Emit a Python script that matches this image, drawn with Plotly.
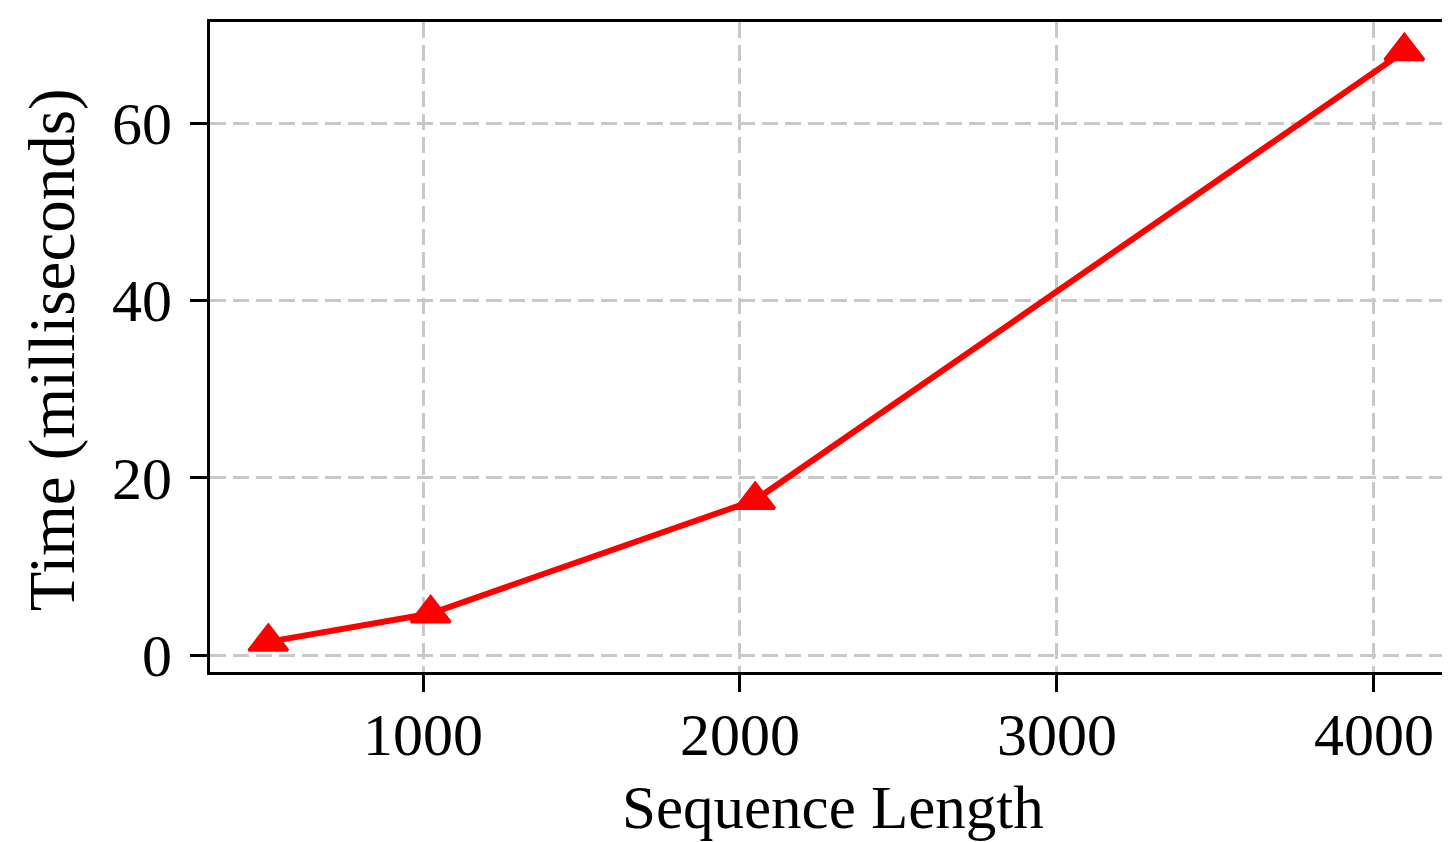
import plotly.graph_objects as go

seq_len = [512, 1024, 2048, 4096]
time_ms = [1.5, 4.7, 17.5, 68.1]
x_ticks = [1000, 2000, 3000, 4000]
y_ticks = [0, 20, 40, 60]

FONT = "Liberation Serif"

fig = go.Figure()
fig.add_trace(go.Scatter(
    x=seq_len, y=time_ms, mode="lines+markers",
    line=dict(color="#ff0000", width=6),
    marker=dict(symbol="triangle-up", size=34, color="#ff0000",
                line=dict(color="#ff0000", width=3)),
    showlegend=False,
))

grid = dict(showgrid=True, gridcolor="#c8c8c8", gridwidth=2.5, griddash="16px,7px")

# page body has an 8px default margin; figure sized to fit the 1450x842 window
fig.update_layout(
    width=1442, height=834,
    margin=dict(l=202, r=0, t=14, b=170),
    plot_bgcolor="white", paper_bgcolor="white",
    font=dict(family=FONT, color="black", size=60),
    xaxis=dict(
        range=[328, 4240], tickvals=x_ticks, ticktext=[str(v) for v in x_ticks],
        showline=True, linecolor="black", linewidth=3, mirror=True,
        ticks="outside", ticklen=17, tickwidth=2.5, tickcolor="black",
        tickfont=dict(size=60, family=FONT), ticklabelstandoff=-9, automargin=False,
        zeroline=False, **grid,
    ),
    yaxis=dict(
        range=[-1.9, 71.4], tickvals=y_ticks, ticktext=[str(v) for v in y_ticks],
        showline=True, linecolor="black", linewidth=3, mirror=False,
        ticks="outside", ticklen=17, tickwidth=2.5, tickcolor="black",
        tickfont=dict(size=60, family=FONT), ticklabelstandoff=6, automargin=False,
        zeroline=False, **grid,
    ),
    annotations=[
        dict(text="Sequence Length", xref="paper", yref="paper", x=0.5024, y=-0.208,
             xanchor="center", yanchor="middle", showarrow=False,
             font=dict(size=61, family=FONT, color="black")),
        dict(text="Time (milliseconds)", xref="paper", yref="paper", x=-0.1274, y=0.495,
             xanchor="center", yanchor="middle", showarrow=False, textangle=-90,
             font=dict(size=65, family=FONT, color="black")),
    ],
)

fig.write_html("out.html")
